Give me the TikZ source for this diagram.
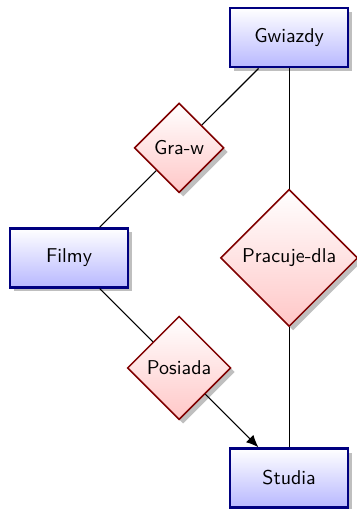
\documentclass[tikz,border=0pt]{standalone}
\usetikzlibrary{positioning, shapes.geometric, shadows, arrows.meta}
\begin{document}
\begin{tikzpicture}[>={Latex[length=6.5pt,width=5.5pt]}, semithick,
    font=\sffamily\fontsize{10.6}{12.7}\selectfont,
    node distance=2.05cm and 2.05cm, on grid,
    entity/.style={rectangle, draw=blue!50!black, very thick, top color=white,
        bottom color=blue!28, drop shadow, minimum width=2.2cm, minimum height=1.1cm},
    relation/.style={diamond, aspect=1, draw=red!50!black, thick, top color=white,
        bottom color=red!22, drop shadow}]
            \useasboundingbox (-36.6pt, -133.1pt) rectangle (152.6pt, 136.7pt);
            \node[entity] (2) at (0, 0) {Filmy};
            \node[relation, above right=of 2] (1) {Gra-w};
            \node[entity, above right=of 1] (0) {Gwiazdy};
            \node[relation, right=4.1cm of 2] (3) {Pracuje-dla};
            \node[relation, below right=of 2] (4) {Posiada};
            \node[entity, below right=of 4] (5) {Studia};
            \draw (0) -- (1);
            \draw (1) -- (2);
            \draw (0) -- (3);
            \draw (3) -- (5);
            \draw (2) -- (4);
            \draw[->] (4) -- (5);
        \end{tikzpicture}
\end{document}
